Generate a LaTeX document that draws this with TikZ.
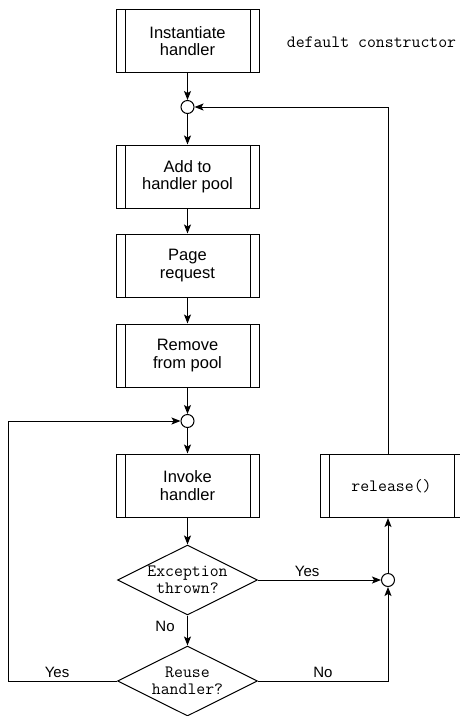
\documentclass[tikz,border=0pt]{standalone}
\usepackage{fontspec}
\setmainfont{Liberation Sans}
\usetikzlibrary{shapes.geometric,arrows.meta}
\begin{document}
\begin{tikzpicture}[x=1pt,y=-1pt,line width=1pt,
  >={Stealth[length=9pt,width=7pt,inset=2pt]},
  procbox/.style={draw, align=center, minimum width=143pt, minimum height=63pt, inner sep=0pt,
    font=\fontsize{16.5}{17.5}\selectfont,
    path picture={\draw ([xshift=9pt]path picture bounding box.north west) -- ([xshift=9pt]path picture bounding box.south west)
      ([xshift=-9pt]path picture bounding box.north east) -- ([xshift=-9pt]path picture bounding box.south east);}},
  decision/.style={diamond, draw, aspect=2, minimum width=140pt, minimum height=70pt, inner sep=-1pt,
    align=center, font=\ttfamily\fontsize{17.3}{17.5}\selectfont},
  junction/.style={circle, draw, fill=white, minimum size=13pt, inner sep=0pt},
  codetext/.style={font=\ttfamily\fontsize{17.3}{17.5}\selectfont},
  lbl/.style={font=\fontsize{15}{17}\selectfont}]
\useasboundingbox (0,0) rectangle (460,716);
\node[procbox] (inst) at (187.5,41) {Instantiate\\ handler};
\node[codetext] (ctor) at (371.5,42) {default constructor};
\node[junction] (join) at (187.5,107) {};
\node[procbox] (add) at (187.5,176.5) {Add to\\ handler pool};
\node[procbox] (page) at (187.5,265.5) {Page\\ request};
\node[procbox] (remove) at (187.5,355.5) {Remove\\ from pool};
\node[junction] (loop) at (187.5,421) {};
\node[procbox] (invoke) at (187.5,485.5) {Invoke\\ handler};
\node[decision] (exc) at (187.5,580) {Exception\\ thrown?};
\node[decision] (reuse) at (187.5,681) {Reuse\\ handler?};
\node[junction] (merge) at (388,580) {};
\node[procbox,codetext] (release) at (391.5,486) {release()};
\coordinate (leftbend) at (8,681);
\draw[->] (inst) -- (join);
\draw[->] (join) -- (add);
\draw[->] (add) -- (page);
\draw[->] (page) -- (remove);
\draw[->] (remove) -- (loop);
\draw[->] (loop) -- (invoke);
\draw[->] (invoke) -- (exc);
\draw[->] (exc.east) -- node[lbl, above, pos=0.4] {Yes} (merge);
\draw[->] (exc.south) -- node[lbl, left=9pt, pos=0.35] {No} (reuse.north);
\draw[->] (reuse.east) -| node[lbl, above, pos=0.25] {No} (merge);
\draw[->] (reuse.west) -- node[lbl, above, pos=0.55] {Yes} (leftbend) |- (loop);
\draw[->] (merge) -- (merge |- release.south);
\draw[->] (release.north -| merge) |- (join);
\end{tikzpicture}
\end{document}
